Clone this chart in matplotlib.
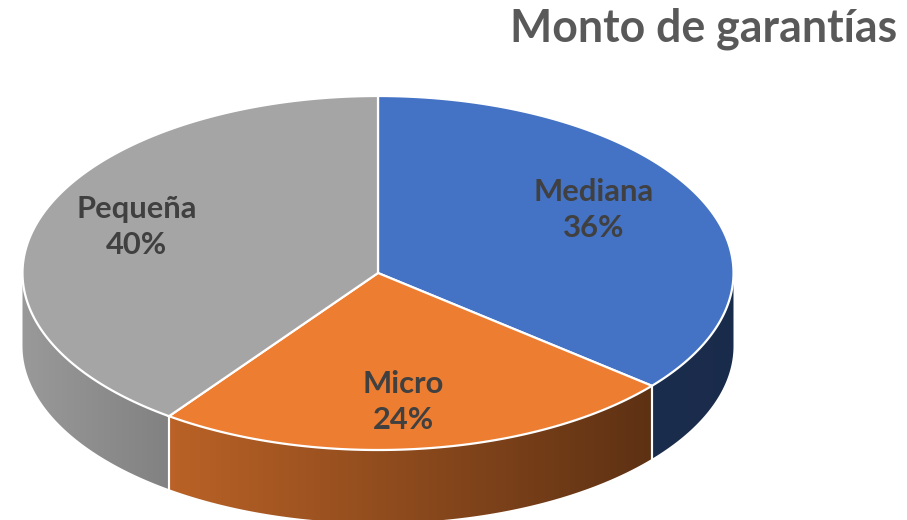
import numpy as np
import matplotlib
matplotlib.use("Agg")
import matplotlib.pyplot as plt
from matplotlib.patches import Polygon
from matplotlib.colors import to_rgb

# ---- data ----
categories = ["Mediana", "Micro", "Pequeña"]
shares = [36, 24, 40]
pct_labels = ["36%", "24%", "40%"]
title = "Monto de garantías"

# ---- style ----
top_colors = ["#4472C4", "#ED7D31", "#A5A5A5"]
label_pos = [(594, 210), (403, 402), (137, 227)]
W, H = 907, 520
cx, cy, a, b, depth = 378.0, 273.0, 355.5, 177.0, 73.0
FONT = ["Lato", "DejaVu Sans"]

fig = plt.figure(figsize=(W / 100, H / 100), dpi=100)
ax = fig.add_axes([0, 0, 1, 1])
ax.set_xlim(0, W)
ax.set_ylim(H, 0)
ax.axis("off")


def pt(theta_deg, dy=0.0):
    t = np.radians(theta_deg)
    return cx + a * np.sin(t), cy - b * np.cos(t) + dy


def shade(x):
    return np.interp(x, [22, 163, 656, 733], [0.93, 0.79, 0.39, 0.38])


total = float(sum(shares))
bounds = np.concatenate([[0], np.cumsum(shares) / total * 360.0])

xs_img = np.arange(W) + 0.5
# side walls
for i, col in enumerate(top_colors):
    t0, t1 = bounds[i], bounds[i + 1]
    s0, s1 = max(t0, 90.0), min(t1, 270.0)
    if s1 <= s0:
        continue
    th = np.linspace(s0, s1, 200)
    tx, ty = pt(th)
    bx, by = pt(th[::-1], depth)
    verts = np.column_stack([np.concatenate([tx, bx]), np.concatenate([ty, by])])
    poly = Polygon(verts, closed=True, transform=ax.transData, facecolor="none", edgecolor="none")
    ax.add_patch(poly)
    rgb = np.array(to_rgb(col))
    img = shade(xs_img)[:, None] * rgb[None, :]
    img = np.repeat(img[None, :, :], 2, axis=0)
    im = ax.imshow(img, extent=(0, W, H, 0), aspect="auto", interpolation="bilinear", zorder=1)
    im.set_clip_path(poly)
    # white separators between walls
    for tb in (t0, t1):
        if 90.0 < tb < 270.0:
            x0, y0 = pt(tb)
            ax.plot([x0, x0], [y0, y0 + depth], color="white", lw=1.5, zorder=2)

# top wedges
for i, col in enumerate(top_colors):
    th = np.linspace(bounds[i], bounds[i + 1], 300)
    ex, ey = pt(th)
    verts = np.column_stack([np.concatenate([[cx], ex]), np.concatenate([[cy], ey])])
    ax.add_patch(Polygon(verts, closed=True, facecolor=col, edgecolor="white",
                         linewidth=1.6, joinstyle="miter", zorder=3))

fig.canvas.draw()
renderer = fig.canvas.get_renderer()


def fit_text(x, y, s, target_w, **kw):
    t = ax.text(x, y, s, fontsize=20, family=FONT, fontweight="bold", **kw)
    w = t.get_window_extent(renderer).width
    t.set_fontsize(20 * target_w / w)
    return t


# title
fit_text(897, 29, title, 387, ha="right", va="center", color="#595959", zorder=5)

# labels
t0 = ax.text(0, 0, "Mediana", family=FONT, fontweight="bold", fontsize=20)
lab_size = 20 * 120 / t0.get_window_extent(renderer).width
t0.remove()
for (x, y), cat, p in zip(label_pos, categories, pct_labels):
    ax.text(x, y, f"{cat}\n{p}", ha="center", va="center", family=FONT,
            fontweight="bold", fontsize=lab_size, color="#404040",
            linespacing=1.32, zorder=5)

fig.savefig("out.png", dpi=100)
